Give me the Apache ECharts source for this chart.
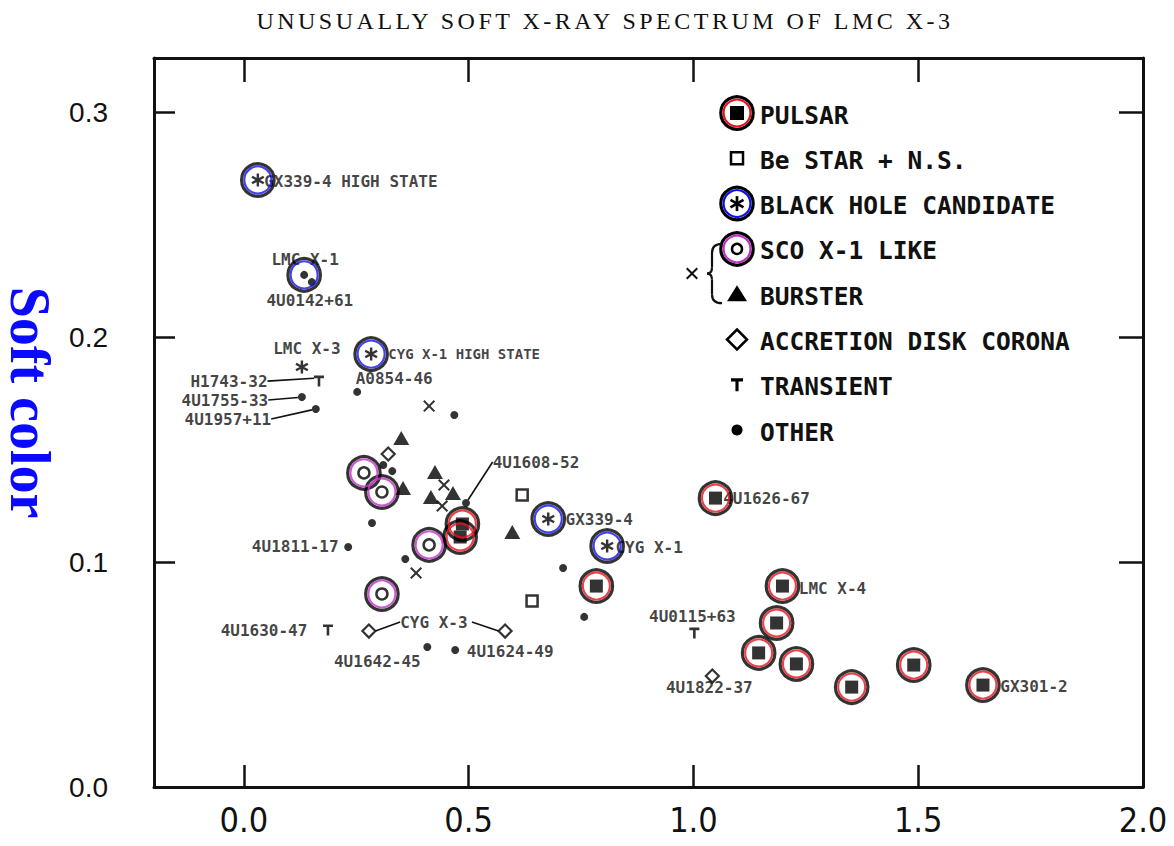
<!DOCTYPE html>
<html>
<head>
<meta charset="utf-8">
<script src="https://cdn.jsdelivr.net/npm/echarts@6/dist/echarts.min.js"></script>
<style>
html,body{margin:0;padding:0;background:#fff;}
#c{width:1174px;height:846px;}
</style>
</head>
<body>
<div id="c"></div>
<script>
// ---------------- DATA ----------------
const chartTitle = 'UNUSUALLY SOFT X-RAY SPECTRUM OF LMC X-3';
const yAxisName = 'Soft color';
const xTickLabels = [0, 0.5, 1.0, 1.5, 2.0];
const yTickLabels = [0, 0.1, 0.2, 0.3];
const legendLabels = ['PULSAR', 'Be STAR + N.S.', 'BLACK HOLE CANDIDATE', 'SCO X-1 LIKE',
  'BURSTER', 'ACCRETION DISK CORONA', 'TRANSIENT', 'OTHER'];

// [x, soft color, name]
const pulsars = [
  [1.049, 0.1284, '4U1626-67'], [0.784, 0.0893, ''], [1.198, 0.0893, 'LMC X-4'],
  [1.185, 0.0729, ''], [1.145, 0.0596, ''], [1.229, 0.0547, ''], [1.352, 0.0444, ''],
  [1.490, 0.0542, ''], [1.644, 0.0453, 'GX301-2'], [0.486, 0.1169, ''], [0.481, 0.1111, '']
];
const beStars = [[0.619, 0.1298, ''], [0.641, 0.0827, '']];
const blackHoles = [
  [0.031, 0.2698, 'GX339-4 HIGH STATE'], [0.129, 0.1867, 'LMC X-3'],
  [0.283, 0.1924, 'CYG X-1 HIGH STATE'], [0.677, 0.1191, 'GX339-4'], [0.808, 0.1071, 'CYG X-1']
];
const scoLike = [[0.267, 0.1396, ''], [0.307, 0.1311, ''], [0.412, 0.1076, ''], [0.307, 0.0858, '']];
const bursters = [
  [0.350, 0.1551, ''], [0.354, 0.1329, ''], [0.425, 0.1400, ''], [0.416, 0.1289, ''],
  [0.465, 0.1307, ''], [0.597, 0.1133, '']
];
const adcs = [[0.321, 0.1480, ''], [0.278, 0.0693, 'CYG X-3'], [0.581, 0.0693, 'CYG X-3'], [1.042, 0.0493, '4U1822-37']];
const transients = [[0.167, 0.1804, 'H1743-32'], [0.187, 0.0698, '4U1630-47'], [1.002, 0.0684, '4U0115+63']];
const others = [
  [0.134, 0.2276, 'LMC X-1'], [0.151, 0.2244, '4U0142+61'], [0.129, 0.1733, '4U1755-33'],
  [0.160, 0.1680, '4U1957+11'], [0.252, 0.1756, 'A0854-46'], [0.468, 0.1653, ''],
  [0.330, 0.1404, ''], [0.310, 0.1431, ''], [0.285, 0.1173, ''], [0.232, 0.1067, '4U1811-17'],
  [0.494, 0.1262, '4U1608-52'], [0.359, 0.1013, ''], [0.710, 0.0973, ''], [0.757, 0.0756, ''],
  [0.408, 0.0622, '4U1642-45'], [0.470, 0.0609, '4U1624-49']
];
const crosses = [[0.412, 0.1693, ''], [0.445, 0.1342, ''], [0.441, 0.1249, ''], [0.383, 0.0951, '']];

// sources circled as black hole candidates (by name)
const bhcCircled = ['GX339-4 HIGH STATE', 'LMC X-1', 'CYG X-1 HIGH STATE', 'GX339-4', 'CYG X-1'];

// ---------------- LABEL LAYOUT (pixel offsets of label centre from point) ----------------
const labelSpec = {
  'GX339-4 HIGH STATE': [{dx: 93, dy: 2}],
  'LMC X-1': [{dx: 1, dy: -15}],
  '4U0142+61': [{dx: -2, dy: 18}],
  'LMC X-3': [{dx: 5, dy: -18}],
  'CYG X-1 HIGH STATE': [{dx: 93, dy: 0, fs: 14}],
  'H1743-32': [{dx: -90, dy: 0, line: true}],
  '4U1755-33': [{dx: -77, dy: 3, line: true}],
  '4U1957+11': [{dx: -88, dy: 10, line: true}],
  'A0854-46': [{dx: 37, dy: -13}],
  '4U1608-52': [{dx: 70, dy: -41, line: true}],
  '4U1811-17': [{dx: -53, dy: 0}],
  'GX339-4': [{dx: 51, dy: 0}],
  'CYG X-1': [{dx: 42, dy: 1}],
  '4U1626-67': [{dx: 51, dy: 0}],
  'LMC X-4': [{dx: 50, dy: 2}],
  '4U0115+63': [{dx: -2, dy: -17}],
  '4U1822-37': [{dx: -3, dy: 11}],
  'GX301-2': [{dx: 51, dy: 1}],
  '4U1630-47': [{dx: -64, dy: 1}],
  'CYG X-3': [{dx: 65, dy: -9, line: true}, {dx: -38, dy: -9, line: true, blank: true}],
  '4U1642-45': [{dx: -50, dy: 14}],
  '4U1624-49': [{dx: 55, dy: 2}]
};

// ---------------- SYMBOL SHAPES (unit box 0..100) ----------------
const AST_POLYS = [
  [[41, 0], [59, 0], [59, 100], [41, 100]],
  [[88.8, 17.2], [97.8, 32.8], [11.2, 82.8], [2.2, 67.2]],
  [[11.2, 17.2], [97.8, 67.2], [88.8, 82.8], [2.2, 32.8]]
];
const TEE_POLYS = [[[0, 0], [100, 0], [100, 24], [63, 24], [63, 100], [37, 100], [37, 24], [0, 24]]];
const CROSS_POLYS = [[[0, 12], [12, 0], [50, 38], [88, 0], [100, 12], [62, 50], [100, 88], [88, 100], [50, 62], [12, 100], [0, 88], [38, 50]]];
function toPath(polys) {
  return 'path://' + polys.map(p => 'M' + p.map(q => q[0] + ',' + q[1]).join('L') + 'Z').join(' ');
}
const AST = toPath(AST_POLYS), TEE = toPath(TEE_POLYS), CROSS = toPath(CROSS_POLYS);
const RED = '#e8101a', BLUE = '#1010ee', MAG = '#c030c8';
const LABEL_FONT = 'DejaVu Sans Mono';

const used = {};
function toData(pts) {
  return pts.map(p => {
    const d = {value: [p[0], p[1]], name: p[2] || ''};
    const list = labelSpec[p[2]];
    if (list) {
      const k = used[p[2]] || 0; used[p[2]] = k + 1;
      const s = list[k];
      if (s) {
        d.label = {show: true, position: 'inside', offset: [s.dx, s.dy],
          formatter: s.blank ? ' ' : p[2], fontSize: s.fs || 16};
        if (s.line) d.labelLine = {show: true};
      }
    }
    return d;
  });
}
function base(name, pts, symbol, size, style, z) {
  return {
    name, type: 'scatter', data: toData(pts), symbol, symbolSize: size,
    itemStyle: style, z: z || 3, silent: true, emphasis: {disabled: true},
    label: {show: false, fontFamily: LABEL_FONT, fontWeight: 'bold', color: '#111',
      align: 'center', verticalAlign: 'middle'},
    labelLine: {show: false, lineStyle: {color: '#111', width: 1.6}}
  };
}
function rings(name, pts, color) {
  const data = pts.map(p => [p[0], p[1]]);
  return [
    {name: name + ' ring', type: 'scatter', data, symbol: 'circle', symbolSize: 32.5, z: 5, silent: true,
      emphasis: {disabled: true},
      itemStyle: {color: 'rgba(0,0,0,0)', borderColor: '#000', borderWidth: 3.2}},
    {name: name + ' inner ring', type: 'scatter', data, symbol: 'circle', symbolSize: 27, z: 5, silent: true,
      emphasis: {disabled: true},
      itemStyle: {color: 'rgba(0,0,0,0)', borderColor: color, borderWidth: 2.1}}
  ];
}
const allPts = [].concat(pulsars, beStars, blackHoles, scoLike, bursters, adcs, transients, others, crosses);
const bhcRingPts = bhcCircled.map(n => allPts.find(p => p[2] === n));

// ---------------- LEGEND (drawn as graphics) ----------------
const LX = 737, LY0 = 113, LDY = 45.3, LTX = 760;
const g = [];
function polysAt(polys, cx, cy, w, h, style) {
  polys.forEach(poly => g.push({type: 'polygon',
    shape: {points: poly.map(q => [cx - w / 2 + q[0] * w / 100, cy - h / 2 + q[1] * h / 100])},
    style: style}));
}
function ringIcon(cy, color) {
  g.push({type: 'circle', shape: {cx: LX, cy, r: 16.2}, style: {fill: 'none', stroke: '#000', lineWidth: 3.2}});
  g.push({type: 'circle', shape: {cx: LX, cy, r: 13.4}, style: {fill: 'none', stroke: color, lineWidth: 2.1}});
}
legendLabels.forEach((txt, i) => {
  const cy = LY0 + i * LDY;
  if (i === 0) { ringIcon(cy, RED); g.push({type: 'rect', shape: {x: LX - 7, y: cy - 7, width: 14, height: 14}, style: {fill: '#000'}}); }
  if (i === 1) g.push({type: 'rect', shape: {x: LX - 6, y: cy - 6, width: 12, height: 12}, style: {fill: '#fff', stroke: '#000', lineWidth: 2.5}});
  if (i === 2) { ringIcon(cy, BLUE); polysAt(AST_POLYS, LX, cy, 15, 15, {fill: '#000'}); }
  if (i === 3) { ringIcon(cy, MAG); g.push({type: 'circle', shape: {cx: LX, cy, r: 5}, style: {fill: '#fff', stroke: '#000', lineWidth: 2.5}}); }
  if (i === 4) g.push({type: 'polygon', shape: {points: [[LX, cy - 9], [LX + 10, cy + 7], [LX - 10, cy + 7]]}, style: {fill: '#000'}});
  if (i === 5) g.push({type: 'polygon', shape: {points: [[LX, cy - 10], [LX + 10, cy], [LX, cy + 10], [LX - 10, cy]]}, style: {fill: '#fff', stroke: '#000', lineWidth: 2.5}});
  if (i === 6) polysAt(TEE_POLYS, LX, cy, 12, 13, {fill: '#000'});
  if (i === 7) g.push({type: 'circle', shape: {cx: LX, cy, r: 5.5}, style: {fill: '#000'}});
  g.push({type: 'text', x: LTX, y: cy + 2, style: {text: txt, fontFamily: LABEL_FONT, fontWeight: 'bold',
    fontSize: 24.5, fill: '#111', textAlign: 'left', textVerticalAlign: 'middle'}});
});
// brace and cross grouping SCO X-1 LIKE and BURSTER
const bTop = LY0 + 3 * LDY - 5, bBot = LY0 + 4 * LDY + 9, bMid = (bTop + bBot) / 2;
const braceStyle = {fill: 'none', stroke: '#111', lineWidth: 2.2};
g.push({type: 'bezierCurve', shape: {x1: 722, y1: bTop, x2: 712, y2: bTop + 9, cpx1: 712, cpy1: bTop}, style: braceStyle});
g.push({type: 'line', shape: {x1: 712, y1: bTop + 9, x2: 712, y2: bMid - 6}, style: braceStyle});
g.push({type: 'bezierCurve', shape: {x1: 712, y1: bMid - 6, x2: 707, y2: bMid, cpx1: 712, cpy1: bMid}, style: braceStyle});
g.push({type: 'bezierCurve', shape: {x1: 707, y1: bMid, x2: 712, y2: bMid + 6, cpx1: 712, cpy1: bMid}, style: braceStyle});
g.push({type: 'line', shape: {x1: 712, y1: bMid + 6, x2: 712, y2: bBot - 9}, style: braceStyle});
g.push({type: 'bezierCurve', shape: {x1: 712, y1: bBot - 9, x2: 722, y2: bBot, cpx1: 712, cpy1: bBot}, style: braceStyle});
polysAt(CROSS_POLYS, 692, bMid, 12, 12, {fill: '#111'});

// ---------------- AXES ----------------
const frame = {show: true, onZero: false, lineStyle: {color: '#111', width: 3}};
const tickStyle = {color: '#111', width: 2.5};
const option = {
  animation: false,
  backgroundColor: '#fff',
  title: {text: chartTitle, left: 600, top: 4, textAlign: 'center',
    textStyle: {fontFamily: 'Liberation Serif', fontWeight: 'normal', fontSize: 24, color: '#111'}},
  grid: {left: 154, right: 31, top: 58, bottom: 59, outerBoundsMode: 'none', containLabel: false},
  xAxis: [
    {type: 'value', min: -0.2, max: 2.0, position: 'bottom', axisLine: frame, splitLine: {show: false},
      axisTick: {show: true, inside: true, length: 22, lineStyle: tickStyle, customValues: [0, 0.5, 1.0, 1.5]},
      axisLabel: {customValues: xTickLabels, formatter: v => v.toFixed(1), margin: 16, fontSize: 34,
        fontFamily: "'Liberation Sans Narrow', 'DejaVu Sans Condensed', sans-serif", color: '#111'}},
    {type: 'value', min: -0.2, max: 2.0, position: 'top', axisLine: frame, splitLine: {show: false},
      axisTick: {show: true, inside: true, length: 24, lineStyle: tickStyle, customValues: [0, 0.5, 1.0, 1.5]},
      axisLabel: {show: false}}
  ],
  yAxis: [
    {type: 'value', min: 0, max: 0.324, position: 'left', axisLine: frame, splitLine: {show: false},
      axisTick: {show: true, inside: true, length: 21, lineStyle: tickStyle, customValues: [0.1, 0.2, 0.3]},
      axisLabel: {customValues: yTickLabels, formatter: v => v.toFixed(1), margin: 46, fontSize: 28,
        fontFamily: "'Liberation Sans', Arial, sans-serif", color: '#111'},
      name: yAxisName, nameLocation: 'middle', nameRotate: -90, nameGap: 95,
      nameTextStyle: {fontFamily: 'Liberation Serif', fontWeight: 'bold', fontSize: 56, color: '#0a0aff',
        padding: [0, 40, 0, 0]}},
    {type: 'value', min: 0, max: 0.324, position: 'right', axisLine: frame, splitLine: {show: false},
      axisTick: {show: true, inside: true, length: 24, lineStyle: tickStyle, customValues: [0.1, 0.2, 0.3]},
      axisLabel: {show: false}}
  ],
  graphic: g,
  series: [
    base('PULSAR', pulsars, 'rect', 13, {color: '#000'}),
    base('Be STAR + N.S.', beStars, 'rect', 11, {color: '#fff', borderColor: '#000', borderWidth: 2.5}),
    base('BLACK HOLE CANDIDATE', blackHoles, AST, 13, {color: '#000'}),
    base('SCO X-1 LIKE', scoLike, 'circle', 11, {color: '#fff', borderColor: '#000', borderWidth: 2.5}),
    base('BURSTER', bursters, 'triangle', [16, 14], {color: '#000'}),
    base('ACCRETION DISK CORONA', adcs, 'diamond', 13, {color: '#fff', borderColor: '#000', borderWidth: 2.2}),
    base('TRANSIENT', transients, TEE, [10, 11], {color: '#000'}),
    base('OTHER', others, 'circle', 8, {color: '#000'}),
    base('X', crosses, CROSS, 12, {color: '#000'}),
    ...rings('PULSAR', pulsars, RED),
    ...rings('BLACK HOLE CANDIDATE', bhcRingPts, BLUE),
    ...rings('SCO X-1 LIKE', scoLike, MAG)
  ]
};
const chart = echarts.init(document.getElementById('c'), null, {renderer: 'svg', width: 1174, height: 846});
chart.setOption(option);
function spaceTitle() {
  document.querySelectorAll('#c text').forEach(t => {
    if (t.textContent === chartTitle) t.setAttribute('letter-spacing', '3.5');
  });
}
chart.on('finished', spaceTitle);
setTimeout(spaceTitle, 0);
</script>
</body>
</html>
